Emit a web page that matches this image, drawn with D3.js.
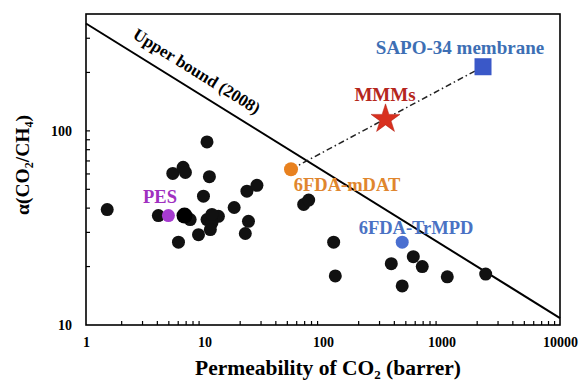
<!DOCTYPE html>
<html>
<head>
<meta charset="utf-8">
<script src="https://cdn.jsdelivr.net/npm/d3@7"></script>
<style>
  html, body { margin: 0; padding: 0; background: #fff; }
  svg { display: block; }
  text { font-family: "Liberation Serif", "Times New Roman", serif; font-weight: bold; }
</style>
</head>
<body>
<svg id="chart" width="581" height="381"></svg>
<script>
// ---- Data ----
const xTickLabels = [1, 10, 100, 1000, 10000];
const yTickLabels = [10, 100];

// Literature polymer membranes (black dots): CO2 permeability (barrer), CO2/CH4 selectivity
const litPermeability = [10.5, 5.4, 6.6, 6.9, 11.0, 9.8, 22.8, 27.7, 1.51, 4.08, 7.57, 17.8, 10.5, 13.1, 11.55, 11.2, 8.9, 6.03, 23.5, 22.1, 11.55,
                         68.7, 75.7, 123, 578, 377, 688, 127, 466, 1119, 2360];
const litSelectivity  = [87.7, 60.4, 64.9, 61.1, 58.1, 46.1, 48.9, 52.4, 39.3, 36.6, 34.9, 40.3, 34.9, 36.3, 33.6, 31.0, 29.2, 26.7, 34.2, 29.6, 37.1,
                         41.8, 44.0, 26.7, 22.5, 20.7, 20.0, 17.9, 15.9, 17.7, 18.3];

// Highlighted materials
const highlightNames = ["PES", "Matrimid", "6FDA-mDAT", "6FDA-TrMPD"];
const highlightPermeability = [4.96, 6.78, 53.7, 466];
const highlightSelectivity  = [36.6, 36.6, 63.4, 26.7];

const mmmPermeability = [337];
const mmmSelectivity = [115];
const sapoPermeability = [2240];
const sapoSelectivity = [214];

// Robeson 2008 upper bound: P = k * alpha^(-n)
const upperK = 5369140;
const upperN = 2.636;

// ---- Chart ----
const svg = d3.select("#chart");
const L = 86, R = 560, T = 14, B = 325;

const x = d3.scaleLog().domain([1, 10000]).range([L, R]);
const y = d3.scaleLog().domain([10, 400]).range([B, T]);

// Frame
svg.append("rect").attr("x", L).attr("y", T).attr("width", R - L).attr("height", B - T)
  .attr("fill", "none").attr("stroke", "#000").attr("stroke-width", 1.6);

// Minor ticks (inward)
const xMinor = [];
for (let d = 1; d < 10000; d *= 10) for (let m = 2; m <= 9; m++) xMinor.push(d * m);
svg.append("g").selectAll("line").data(xMinor).join("line")
  .attr("x1", d => x(d)).attr("x2", d => x(d)).attr("y1", B).attr("y2", B - 4)
  .attr("stroke", "#000").attr("stroke-width", 1.2);

const yMinor = [20, 30, 40, 50, 60, 70, 80, 90, 100, 200, 300];
svg.append("g").selectAll("line").data(yMinor).join("line")
  .attr("x1", L).attr("x2", L + 4).attr("y1", d => y(d)).attr("y2", d => y(d))
  .attr("stroke", "#000").attr("stroke-width", 1.2);

// Axis labels via d3 axes (no tick lines, no domain)
const xAxis = svg.append("g").attr("transform", `translate(0,${B})`)
  .call(d3.axisBottom(x).tickValues(xTickLabels).tickFormat(d3.format("d")).tickSize(0).tickPadding(12));
xAxis.select(".domain").remove();
xAxis.selectAll("text").attr("font-size", 14).attr("font-family", "Liberation Serif").attr("font-weight", "bold").attr("fill", "#000");

const yAxis = svg.append("g").attr("transform", `translate(${L},0)`)
  .call(d3.axisLeft(y).tickValues(yTickLabels).tickFormat(d3.format("d")).tickSize(0).tickPadding(14));
yAxis.select(".domain").remove();
yAxis.selectAll("text").attr("font-size", 14).attr("font-family", "Liberation Serif").attr("font-weight", "bold").attr("fill", "#000");

// Axis titles
const xt = svg.append("text").attr("x", 328).attr("y", 375).attr("text-anchor", "middle")
  .attr("font-size", 21.5).attr("fill", "#000");
xt.append("tspan").text("Permeability of CO");
xt.append("tspan").attr("font-size", 13).attr("dy", 4).text("2");
xt.append("tspan").attr("dy", -4).text(" (barrer)");

const yt = svg.append("text").attr("transform", "translate(29,165) rotate(-90)").attr("text-anchor", "middle")
  .attr("font-size", 19.5).attr("fill", "#000");
yt.append("tspan").text("α(CO");
yt.append("tspan").attr("font-size", 12).attr("dy", 4).text("2");
yt.append("tspan").attr("dy", -4).text("/CH");
yt.append("tspan").attr("font-size", 12).attr("dy", 4).text("4");
yt.append("tspan").attr("dy", -4).text(")");

// Upper bound line
const ubP = [1, 10000];
const ubA = ubP.map(p => Math.pow(upperK / p, 1 / upperN));
svg.append("line")
  .attr("x1", x(ubP[0])).attr("y1", y(ubA[0])).attr("x2", x(ubP[1])).attr("y2", y(ubA[1]))
  .attr("stroke", "#000").attr("stroke-width", 2);
const ang = Math.atan2(y(ubA[1]) - y(ubA[0]), x(ubP[1]) - x(ubP[0])) * 180 / Math.PI;
svg.append("text").attr("transform", `translate(197,71) rotate(${ang})`)
  .attr("text-anchor", "middle").attr("dy", 6).attr("font-size", 17).attr("fill", "#000").text("Upper bound (2008)");

// Dash-dot connector: 6FDA-mDAT -> MMMs -> SAPO-34
svg.append("line")
  .attr("x1", x(highlightPermeability[2])).attr("y1", y(highlightSelectivity[2]))
  .attr("x2", x(sapoPermeability[0])).attr("y2", y(sapoSelectivity[0]))
  .attr("stroke", "#222").attr("stroke-width", 1.5).attr("stroke-dasharray", "6,3,1.5,3");

// Black literature dots
svg.append("g").selectAll("circle").data(litPermeability.map((p, i) => [p, litSelectivity[i]])).join("circle")
  .attr("cx", d => x(d[0])).attr("cy", d => y(d[1])).attr("r", 6.5).attr("fill", "#111");

// Highlighted dots
const hColors = ["#a63bd0", "#000", "#e8811f", "#4a6fd0"];
const hR = [6.5, 8, 7, 6.5];
svg.append("g").selectAll("circle").data(highlightPermeability.map((p, i) => [p, highlightSelectivity[i], i])).join("circle")
  .attr("cx", d => x(d[0])).attr("cy", d => y(d[1])).attr("r", d => hR[d[2]]).attr("fill", d => hColors[d[2]]);

// MMMs star
const star = d3.symbol().type(d3.symbolStar).size(260);
svg.append("path").attr("d", star())
  .attr("transform", `translate(${x(mmmPermeability[0])},${y(mmmSelectivity[0])})`)
  .attr("fill", "#d8301f").attr("stroke", "#b01d10").attr("stroke-width", 0.5);

// SAPO-34 square
svg.append("rect")
  .attr("x", x(sapoPermeability[0]) - 8.5).attr("y", y(sapoSelectivity[0]) - 8.5)
  .attr("width", 17).attr("height", 17).attr("fill", "#3a58c8");

// Labels
svg.append("text").attr("x", 460).attr("y", 54).attr("text-anchor", "middle").attr("font-size", 19).attr("fill", "#3d6fb4").text("SAPO-34 membrane");
svg.append("text").attr("x", 385).attr("y", 101).attr("text-anchor", "middle").attr("font-size", 19).attr("fill", "#b5261c").text("MMMs");
svg.append("text").attr("x", 347).attr("y", 191).attr("text-anchor", "middle").attr("font-size", 18.5).attr("fill", "#e0862e").text("6FDA-mDAT");
svg.append("text").attr("x", 416).attr("y", 234).attr("text-anchor", "middle").attr("font-size", 18.5).attr("fill", "#4a72c4").text("6FDA-TrMPD");
svg.append("text").attr("x", 160).attr("y", 203).attr("text-anchor", "middle").attr("font-size", 18.5).attr("fill", "#a030c0").text("PES");
</script>
</body>
</html>
